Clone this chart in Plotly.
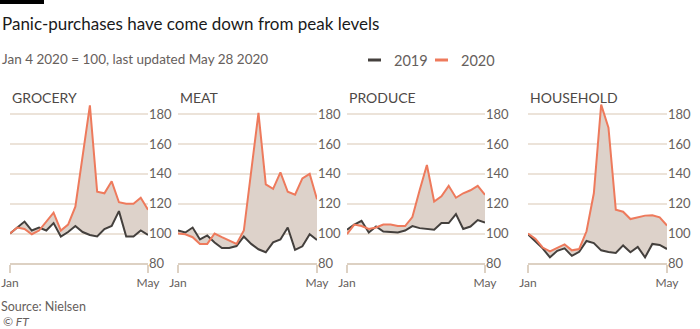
import plotly.graph_objects as go

# Weekly sales index, Jan 4 2020 = 100
weeks = list(range(20))
categories = ["GROCERY", "MEAT", "PRODUCE", "HOUSEHOLD"]

grocery_2019 = [100, 104, 108, 102, 104, 102, 107, 98, 101, 105, 101, 99, 98, 103, 105, 115, 98, 98, 102, 99]
grocery_2020 = [100, 104, 103, 99.5, 102, 108, 114, 102, 106, 118, 153, 186, 128, 127, 135, 121, 120, 120, 124, 116]

meat_2019 = [102, 100.7, 104, 96, 98.7, 94, 90.3, 90.3, 91.6, 98, 93, 89.4, 87.4, 94, 96, 104, 89, 91.4, 99.5, 95.6]
meat_2020 = [100, 99.5, 97.5, 93, 93, 100, 97.5, 95, 93, 102, 140, 181, 133, 130, 141, 128, 126, 137, 140, 123]

produce_2019 = [102.5, 106, 108.5, 100.7, 104.7, 101.3, 101, 100.7, 102, 105, 103.6, 103, 102.5, 107, 107, 113, 103, 104.7, 109, 107.4]
produce_2020 = [99.5, 106, 105, 103, 104, 106, 106, 105, 105, 111, 129, 146, 121.5, 125, 132, 124, 127, 129, 132, 126]

household_2019 = [99.5, 95, 90, 84, 88.4, 90, 85, 87.7, 95, 93.6, 88.7, 87.6, 87, 92, 87.4, 91, 84, 93, 92.3, 89.6]
household_2020 = [100, 96.5, 90.6, 88, 90.3, 92.7, 88.7, 89.6, 101.5, 127, 186.5, 171, 116, 114.6, 109.7, 111, 112, 112.3, 110.8, 105.3]

series_2019 = [grocery_2019, meat_2019, produce_2019, household_2019]
series_2020 = [grocery_2020, meat_2020, produce_2020, household_2020]

y_ticks = [80, 100, 120, 140, 160, 180]
x_tick_labels = ["Jan", "May"]

W, H = 700, 329
FONT = "Lato"
C2019 = "#44403d"
C2020 = "#ee7a5c"
FILL = "#ddd2ca"
GRID = "#ece3d9"
AXIS = "#ddd1c3"
GREY = "#66605c"

# panel left/right edges in pixels
panels_px = [(10, 148), (178, 317), (347, 485), (528, 667)]
y_bottom_px, y_top_px = 263.3, 99.4

fig = go.Figure()
layout = {}
annotations = []

for i, (name, s19, s20) in enumerate(zip(categories, series_2019, series_2020)):
    n = "" if i == 0 else str(i + 1)
    xa, ya = "x" + n, "y" + n
    fig.add_trace(go.Scatter(x=weeks, y=s19, mode="lines", xaxis=xa, yaxis=ya,
                             line=dict(color=C2019, width=2), showlegend=False,
                             hoverinfo="skip"))
    fig.add_trace(go.Scatter(x=weeks, y=s20, mode="lines", xaxis=xa, yaxis=ya,
                             line=dict(color=C2020, width=2), fill="tonexty",
                             fillcolor=FILL, showlegend=False, hoverinfo="skip"))
    x0, x1 = panels_px[i]
    layout["xaxis" + n] = dict(
        domain=[x0 / W, x1 / W], anchor=ya, range=[0, len(weeks) - 1],
        tickvals=[0, len(weeks) - 1], ticktext=x_tick_labels, automargin=False,
        showgrid=False, zeroline=False, showline=True, linecolor=AXIS, linewidth=1.5,
        ticks="outside", ticklen=8, tickcolor=AXIS, tickwidth=1.5,
        tickfont=dict(family=FONT, size=12, color=GREY), fixedrange=True,
    )
    layout["yaxis" + n] = dict(
        domain=[1 - y_bottom_px / H, 1 - y_top_px / H], anchor=xa, side="right",
        range=[80, 190], tickvals=y_ticks, showgrid=True, gridcolor=GRID, gridwidth=1.5,
        zeroline=False, showline=False, ticks="", automargin=False,
        tickfont=dict(family=FONT, size=13, color=GREY), fixedrange=True,
    )
    annotations.append(dict(text=name, x=x0 / W, y=1 - 97 / H, xref="paper", yref="paper",
                            xanchor="left", yanchor="middle", showarrow=False,
                            font=dict(family=FONT, size=14, color="#4d4845")))

annotations += [
    dict(text="Panic-purchases have come down from peak levels", x=0, y=1 - 23 / H,
         xref="paper", yref="paper", xanchor="left", yanchor="middle", showarrow=False,
         font=dict(family=FONT, size=17, color="#1a1a1a")),
    dict(text="Jan 4 2020 = 100, last updated May 28 2020", x=0, y=1 - 59 / H,
         xref="paper", yref="paper", xanchor="left", yanchor="middle", showarrow=False,
         font=dict(family=FONT, size=13.5, color=GREY)),
    dict(text="2019", x=392 / W, y=1 - 60 / H, xref="paper", yref="paper",
         xanchor="left", yanchor="middle", showarrow=False,
         font=dict(family=FONT, size=14.5, color=GREY)),
    dict(text="2020", x=459 / W, y=1 - 60 / H, xref="paper", yref="paper",
         xanchor="left", yanchor="middle", showarrow=False,
         font=dict(family=FONT, size=14.5, color=GREY)),
    dict(text="Source: Nielsen", x=0, y=1 - 306.5 / H, xref="paper", yref="paper",
         xanchor="left", yanchor="middle", showarrow=False, borderpad=0,
         font=dict(family=FONT, size=12.5, color=GREY)),
    dict(text="<i>© FT</i>", x=2 / W, y=1 - 321.5 / H, xref="paper", yref="paper",
         xanchor="left", yanchor="middle", showarrow=False, borderpad=0,
         font=dict(family=FONT, size=12, color=GREY)),
]

shapes = [
    dict(type="rect", xref="paper", yref="paper", x0=0, x1=44 / W, y0=1 - 4 / H, y1=1,
         fillcolor="#000000", line=dict(width=0)),
    dict(type="line", xref="paper", yref="paper", x0=368 / W, x1=381 / W,
         y0=1 - 60 / H, y1=1 - 60 / H, line=dict(color=C2019, width=3)),
    dict(type="line", xref="paper", yref="paper", x0=435 / W, x1=448 / W,
         y0=1 - 60 / H, y1=1 - 60 / H, line=dict(color=C2020, width=3)),
]

fig.update_layout(
    width=W, height=H, margin=dict(l=0, r=0, t=0, b=0, pad=0, autoexpand=False),
    paper_bgcolor="white", plot_bgcolor="white",
    annotations=annotations, shapes=shapes, **layout,
)

fig.write_html("out.html", config={"displayModeBar": False})
